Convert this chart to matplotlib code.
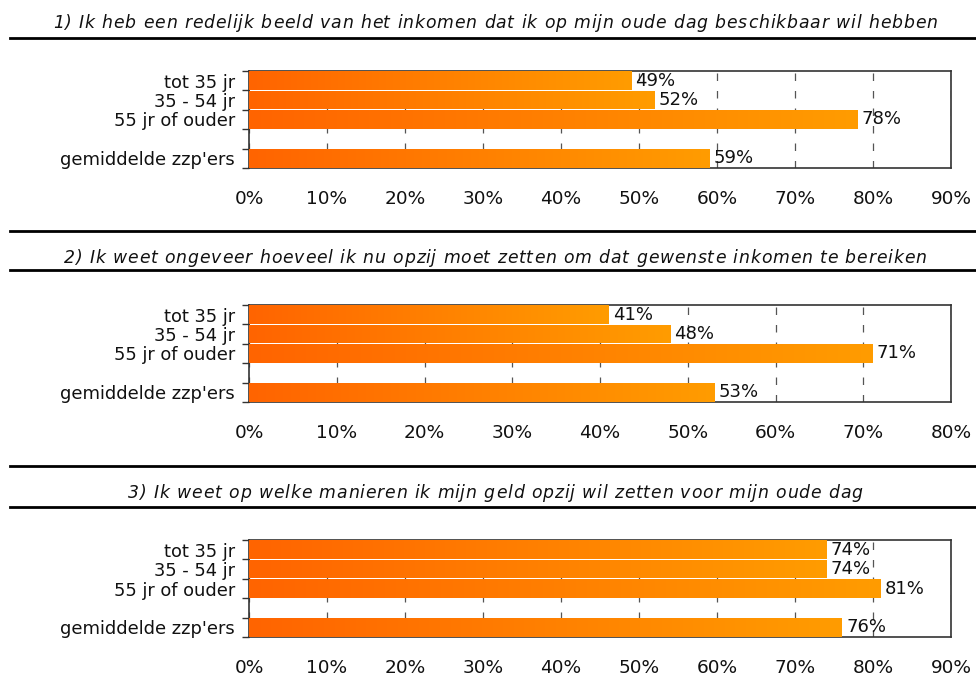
"""Horizontal bar panels: pension knowledge of zzp'ers by age group"""
import matplotlib
matplotlib.use("Agg")
import matplotlib.pyplot as plt
from matplotlib.colors import LinearSegmentedColormap
from matplotlib.font_manager import FontProperties
from matplotlib.lines import Line2D
import numpy as np

# data
categories = ["tot 35 jr", "35 - 54 jr", "55 jr of ouder", "", "gemiddelde zzp'ers"]
titles = [
    "1) Ik heb een redelijk beeld van het inkomen dat ik op mijn oude dag beschikbaar wil hebben",
    "2) Ik weet ongeveer hoeveel ik nu opzij moet zetten om dat gewenste inkomen te bereiken",
    "3) Ik weet op welke manieren ik mijn geld opzij wil zetten voor mijn oude dag",
]
values_q1 = [49, 52, 78, None, 59]
values_q2 = [41, 48, 71, None, 53]
values_q3 = [74, 74, 81, None, 76]
xmax_q = [90, 80, 90]

W, H = 976, 693
fig = plt.figure(figsize=(W / 100, H / 100), dpi=100)
fig.patch.set_facecolor("white")
renderer = fig.canvas.get_renderer()

grad = LinearSegmentedColormap.from_list("orange", ["#ff6400", "#ff9c00"])
grad_img = np.linspace(0, 1, 256).reshape(1, -1)


def fy(px):
    return 1 - px / H


def hline(y_px):
    fig.add_artist(Line2D([10 / W, 1], [fy(y_px), fy(y_px)], color="black", lw=2,
                          transform=fig.transFigure))


def spaced_title(text, y_px, size=12.4, spacing=0.85, cx=495):
    # draw title char by char to imitate the letter spacing
    prop = FontProperties(family="DejaVu Sans", style="italic", size=size)
    base, _, _ = renderer.get_text_width_height_descent("xx", prop, ismath=False)
    widths = []
    for c in text:
        w, _, _ = renderer.get_text_width_height_descent("x" + c + "x", prop, ismath=False)
        widths.append(w - base)
    total = sum(widths) + spacing * (len(text) - 1)
    x = cx - total / 2
    for c, w in zip(text, widths):
        if c != " ":
            fig.text(x / W, fy(y_px), c, fontproperties=prop, ha="left", va="baseline",
                     color="#111111")
        x += w + spacing


def panel(top_px, values, xmax):
    bottom_px = top_px + 97
    ax = fig.add_axes([249 / W, fy(bottom_px), 702 / W, 97 / H])
    ypos = np.arange(len(categories))
    vals = [v if v is not None else 0 for v in values]
    bars = ax.barh(ypos, vals, height=0.95, color="#ff7a00", zorder=2)
    for bar, v in zip(bars, values):
        if v is None:
            continue
        y0 = bar.get_y()
        im = ax.imshow(grad_img, cmap=grad, aspect="auto", zorder=3,
                       extent=[0, v, y0, y0 + bar.get_height()], interpolation="bilinear")
        im.set_clip_path(bar)
        ax.text(v + xmax * 0.006, bar.get_y() + bar.get_height() / 2, f"{v}%",
                ha="left", va="center", fontsize=13, color="#111111", zorder=4)
    ax.set_xlim(0, xmax)
    ax.set_ylim(len(categories) - 0.5, -0.5)
    ax.set_xticks(np.arange(0, xmax + 1, 10))
    ax.set_xticklabels([f"{t}%" for t in range(0, xmax + 1, 10)], fontsize=13.3)
    ax.tick_params(axis="x", length=0, pad=16, colors="#111111")
    ax.set_yticks(np.arange(-0.5, len(categories), 1.0))
    ax.set_yticklabels([])
    ax.set_yticks(ypos, minor=True)
    ax.set_yticklabels(categories, minor=True, fontsize=12.9)
    ax.tick_params(axis="y", which="major", length=5, width=1, color="#333333")
    ax.tick_params(axis="y", which="minor", length=0, pad=10, colors="#111111")
    ax.grid(axis="x", color="#555555", linestyle=(0, (6, 8)), lw=0.9, zorder=1)
    ax.set_axisbelow(True)
    for s in ax.spines.values():
        s.set_color("#333333")
        s.set_linewidth(1.2)
    return ax


tops = [71, 305, 540]
title_base = [28, 263, 498]
values_all = [values_q1, values_q2, values_q3]
for i in range(3):
    spaced_title(titles[i], title_base[i])
    panel(tops[i], values_all[i], xmax_q[i])

for y in [38, 231, 270, 466, 507]:
    hline(y)

fig.savefig("out.png", dpi=100, facecolor="white")
